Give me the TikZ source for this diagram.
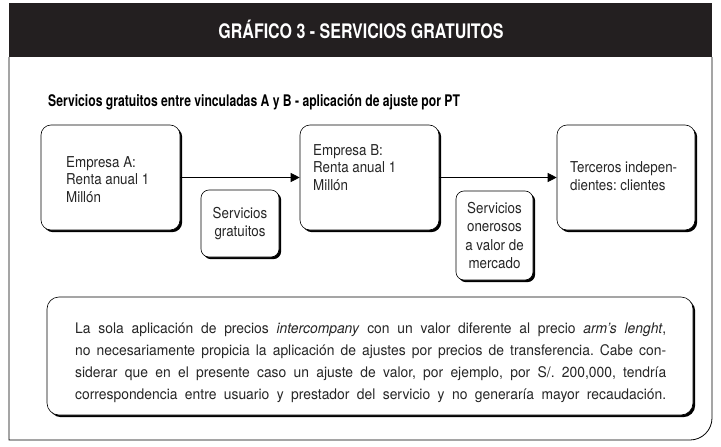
\documentclass[tikz,border=0pt]{standalone}
\usepackage{fontspec}
\usetikzlibrary{arrows.meta,shadows}
\newfontfamily\titlefont[FakeStretch=0.8]{TeX Gyre Heros}
\newfontfamily\subfont[FakeStretch=0.76]{TeX Gyre Heros}
\newfontfamily\boxfont[FakeStretch=0.89]{TeX Gyre Heros}
\newfontfamily\notefont[FakeStretch=0.95]{TeX Gyre Heros}
\definecolor{hdr}{RGB}{35,31,32}
\definecolor{txt}{RGB}{38,38,38}
\frenchspacing
\begin{document}
\begin{tikzpicture}[x=1pt,y=-1pt,
  shadowed/.style={draw=black, line width=0.6pt, fill=white, inner sep=0pt,
    drop shadow={shadow xshift=2.2pt, shadow yshift=-2.2pt, fill=black, opacity=1}},
  bigbox/.style={shadowed, rounded corners=10pt, minimum width=139pt, minimum height=105pt},
  smallbox/.style={shadowed, rounded corners=8pt, align=center, text=txt,
    font=\boxfont\fontsize{15}{18.5}\selectfont},
  boxtext/.style={anchor=base west, align=left, inner sep=0pt, text=txt,
    font=\boxfont\fontsize{15}{17.5}\selectfont},
  flow/.style={line width=0.8pt, -{Triangle[length=9pt,width=9pt]}}
]
\useasboundingbox (0,0) rectangle (721,447);
% header and frame
\fill[hdr] (9,3) rectangle (712,57);
\draw[line width=0.8pt] (9,57) -- (9,440) -- (690,440)
  arc[start angle=-90, end angle=0, radius=22pt] -- (712,57);
\node[anchor=base, text=white, inner sep=0pt, font=\titlefont\bfseries\fontsize{20}{22}\selectfont]
  (title) at (361,38) {GRÁFICO 3 - SERVICIOS GRATUITOS};
\node[anchor=base west, inner sep=0pt, font=\subfont\bfseries\fontsize{16}{18}\selectfont]
  (subtitle) at (48,106.5) {Servicios gratuitos entre vinculadas A y B - aplicación de ajuste por PT};
% boxes
\node[bigbox] (A) at (110.5,177.5) {};
\node[bigbox] (B) at (369.5,177.5) {};
\node[bigbox, minimum width=138pt] (C) at (626,177.5) {};
\node[boxtext] (Atext) at (66,202) {Empresa A:\\Renta anual 1\\Millón};
\node[boxtext] (Btext) at (313,190) {Empresa B:\\Renta anual 1\\Millón};
\node[boxtext] (Ctext) at (570,190) {Terceros indepen-\\dientes: clientes};
\node[smallbox, minimum width=78pt, minimum height=67pt] (SG) at (240,223.5) {Servicios\\gratuitos};
\node[smallbox, minimum width=77pt, minimum height=89pt] (SO) at (494.5,235.5) {Servicios\\onerosos\\a valor de\\mercado};
\draw[flow] (A) -- (B);
\draw[flow] (B) -- (C);
% note
\node[shadowed, rounded corners=12pt, minimum width=646pt, minimum height=118pt] (note) at (370,356) {};
\node[anchor=base west, align=left, inner sep=0pt, text=txt,
  font=\notefont\fontsize{14.6}{22}\selectfont] (notetext) at (75,399)
  {\makebox[591pt][s]{La sola aplicación de precios \textit{intercompany} con un valor diferente al precio \textit{arm’s lenght},}\\
   \makebox[591pt][s]{no necesariamente propicia la aplicación de ajustes por precios de transferencia. Cabe con-}\\
   \makebox[591pt][s]{siderar que en el presente caso un ajuste de valor, por ejemplo, por S/. 200,000, tendría}\\
   \makebox[591pt][s]{correspondencia entre usuario y prestador del servicio y no generaría mayor recaudación.}};
\end{tikzpicture}
\end{document}
